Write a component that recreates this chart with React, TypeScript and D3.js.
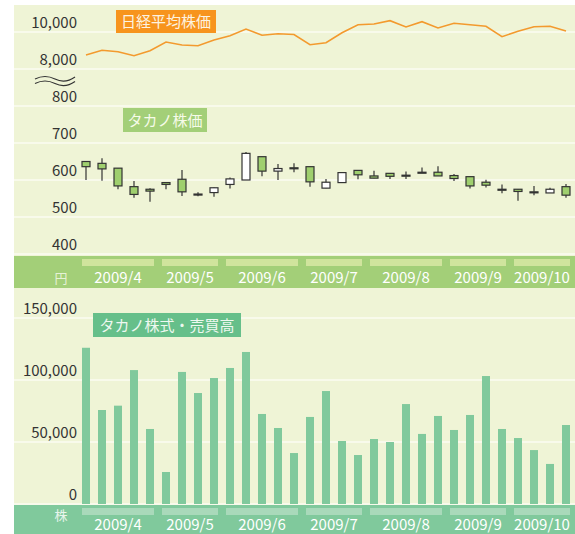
import React from 'react';
import * as d3 from 'd3';

// weekly data, 2009/4 - 2009/10
const nikkei = [8757, 9011, 8935, 8719, 8989, 9459, 9297, 9259, 9568, 9800, 10162, 9822, 9908, 9865, 9314, 9422, 9962, 10395, 10432, 10611, 10270, 10557, 10216, 10470, 10395, 10308, 9746, 10038, 10286, 10308, 10054];
const open = [650, 645, 632, 582, 575, 593, 602, 562, 566, 588, 600, 663, 624, 633, 636, 578, 593, 626, 611, 618, 613, 621, 621, 612, 609, 594, 575, 575, 568, 565, 582];
const high = [650, 659, 632, 597, 578, 593, 627, 567, 580, 607, 676, 663, 643, 645, 636, 603, 620, 626, 625, 618, 623, 634, 637, 616, 609, 601, 588, 575, 584, 579, 589];
const low = [600, 598, 575, 552, 541, 575, 557, 556, 555, 577, 600, 610, 600, 621, 582, 578, 593, 602, 605, 603, 603, 620, 611, 597, 577, 580, 564, 544, 559, 565, 552];
const close = [636, 630, 584, 561, 570, 588, 568, 561, 579, 603, 672, 624, 631, 632, 595, 594, 620, 614, 605, 610, 612, 620, 611, 604, 584, 586, 574, 569, 567, 575, 559];
const volume = [126000, 75800, 79300, 108000, 60500, 25800, 106500, 89500, 101600, 109700, 122600, 72600, 61300, 41100, 70200, 91100, 50800, 39500, 52400, 50000, 80600, 56500, 71000, 59700, 71800, 103200, 60500, 53200, 43500, 32300, 63700];

const months = ['2009/4', '2009/5', '2009/6', '2009/7', '2009/8', '2009/9', '2009/10'];
const monthWeeks = [5, 4, 5, 4, 5, 4, 4];

const nikkeiTicks = [8000, 10000];
const priceTicks = [400, 500, 600, 700, 800];
const volumeTicks = [0, 50000, 100000, 150000];

const W = 575;
const H = 534;
const FONT = '"Noto Sans CJK JP", "Noto Sans", sans-serif';
const BG = '#eff4d6';
const GRID = '#fbfcf2';

export default function App() {
  const weeks = d3.range(volume.length);
  const x = d3.scaleBand<number>().domain(weeks).range([78, 574]).paddingInner(0.5).paddingOuter(0.25);
  const bw = x.bandwidth();
  const cx = (i: number) => (x(i) as number) + bw / 2;

  const yN = d3.scaleLinear().domain([8000, 10000]).range([69, 32]);
  const yP = d3.scaleLinear().domain([400, 800]).range([254, 106]);
  const yV = d3.scaleLinear().domain([0, 150000]).range([504, 318]);
  const fmt = d3.format(',');

  const line = d3.line<number>().x((d, i) => cx(i)).y(d => yN(d));

  // month segments
  let acc = 0;
  const segs = months.map((m, k) => {
    const s = acc;
    acc += monthWeeks[k];
    const x0 = x(s) as number;
    const x1 = (x(acc - 1) as number) + bw;
    return { m, x0, x1 };
  });

  const tickText = (v: number, y: number, key: string) => (
    <text key={key} x={77} y={y - 4.5} textAnchor="end" fontSize={15} fill="#333">{fmt(v)}</text>
  );

  return (
    <svg width={W} height={H} style={{ position: 'absolute', left: 0, top: 0 }} fontFamily={FONT}>
      <rect x={0} y={0} width={W} height={H} fill="#fff" />
      {/* top panel */}
      <rect x={14} y={5} width={W - 14} height={251} fill={BG} />
      {nikkeiTicks.map(v => <line key={'gn' + v} x1={14} x2={W} y1={yN(v)} y2={yN(v)} stroke={GRID} strokeWidth={1.5} />)}
      {priceTicks.map(v => <line key={'gp' + v} x1={14} x2={W} y1={yP(v)} y2={yP(v)} stroke={GRID} strokeWidth={1.5} />)}
      {nikkeiTicks.map(v => tickText(v, yN(v), 'tn' + v))}
      {priceTicks.map(v => tickText(v, yP(v), 'tp' + v))}
      {/* axis break */}
      <g fill="none" stroke="#333" strokeWidth={1.2}>
        <path d="M35,79 q10,-5 20,0 t20,-2" />
        <path d="M35,83.5 q10,-5 20,0 t20,-2" />
      </g>

      <path d={line(nikkei) || ''} fill="none" stroke="#f39a2e" strokeWidth={1.6} />

      <rect x={116} y={10} width={100} height={23} fill="#f7941d" />
      <text x={166} y={27} textAnchor="middle" fontSize={15} fill="#fdf3e0">日経平均株価</text>

      <rect x={123} y={108} width={84} height={24} fill="#a3cf78" />
      <text x={165} y={125.5} textAnchor="middle" fontSize={15} fill="#f6fbe9">タカノ株価</text>

      {/* candles */}
      <g stroke="#333" strokeWidth={1.2}>
        {weeks.map(i => {
          const top = Math.max(open[i], close[i]);
          const bot = Math.min(open[i], close[i]);
          const up = close[i] > open[i];
          const h = Math.max(1, yP(bot) - yP(top));
          return (
            <g key={'c' + i}>
              <line x1={cx(i)} x2={cx(i)} y1={yP(high[i])} y2={yP(low[i])} />
              <rect x={x(i)} y={yP(top)} width={bw} height={h} fill={up ? '#ffffff' : '#9fcf6e'} />
            </g>
          );
        })}
      </g>

      {/* top x band */}
      <rect x={14} y={256} width={W - 14} height={32} fill="#a3cf78" />
      {segs.map(s => (
        <g key={'st' + s.m}>
          <rect x={s.x0} y={259} width={s.x1 - s.x0} height={7} fill="#d0e49d" />
          <text x={(s.x0 + s.x1) / 2} y={283} textAnchor="middle" fontSize={15} fill="#fff">{s.m}</text>
        </g>
      ))}
      <text x={61} y={283} textAnchor="middle" fontSize={13} fill="#e6f2d6">円</text>

      {/* volume panel */}
      <rect x={14} y={288} width={W - 14} height={217} fill={BG} />
      {volumeTicks.map(v => <line key={'gv' + v} x1={14} x2={W} y1={yV(v)} y2={yV(v)} stroke={GRID} strokeWidth={1.5} />)}
      {volumeTicks.map(v => tickText(v, yV(v) + 0.5, 'tv' + v))}
      {weeks.map(i => (
        <rect key={'v' + i} x={x(i)} y={yV(volume[i])} width={bw} height={yV(0) - yV(volume[i])} fill="#80c99c" />
      ))}

      <rect x={93} y={313} width={148} height={24} fill="#66bf8a" />
      <text x={167} y={330.5} textAnchor="middle" fontSize={15} fill="#eef8f0">タカノ株式・売買高</text>

      {/* bottom x band */}
      <rect x={14} y={505} width={W - 14} height={29} fill="#80c99c" />
      {segs.map(s => (
        <g key={'sb' + s.m}>
          <rect x={s.x0} y={508} width={s.x1 - s.x0} height={7} fill="#a9d9ba" />
          <text x={(s.x0 + s.x1) / 2} y={530} textAnchor="middle" fontSize={15} fill="#fff">{s.m}</text>
        </g>
      ))}
      <text x={61} y={520} textAnchor="middle" fontSize={13} fill="#e8f5ec">株</text>
    </svg>
  );
}
